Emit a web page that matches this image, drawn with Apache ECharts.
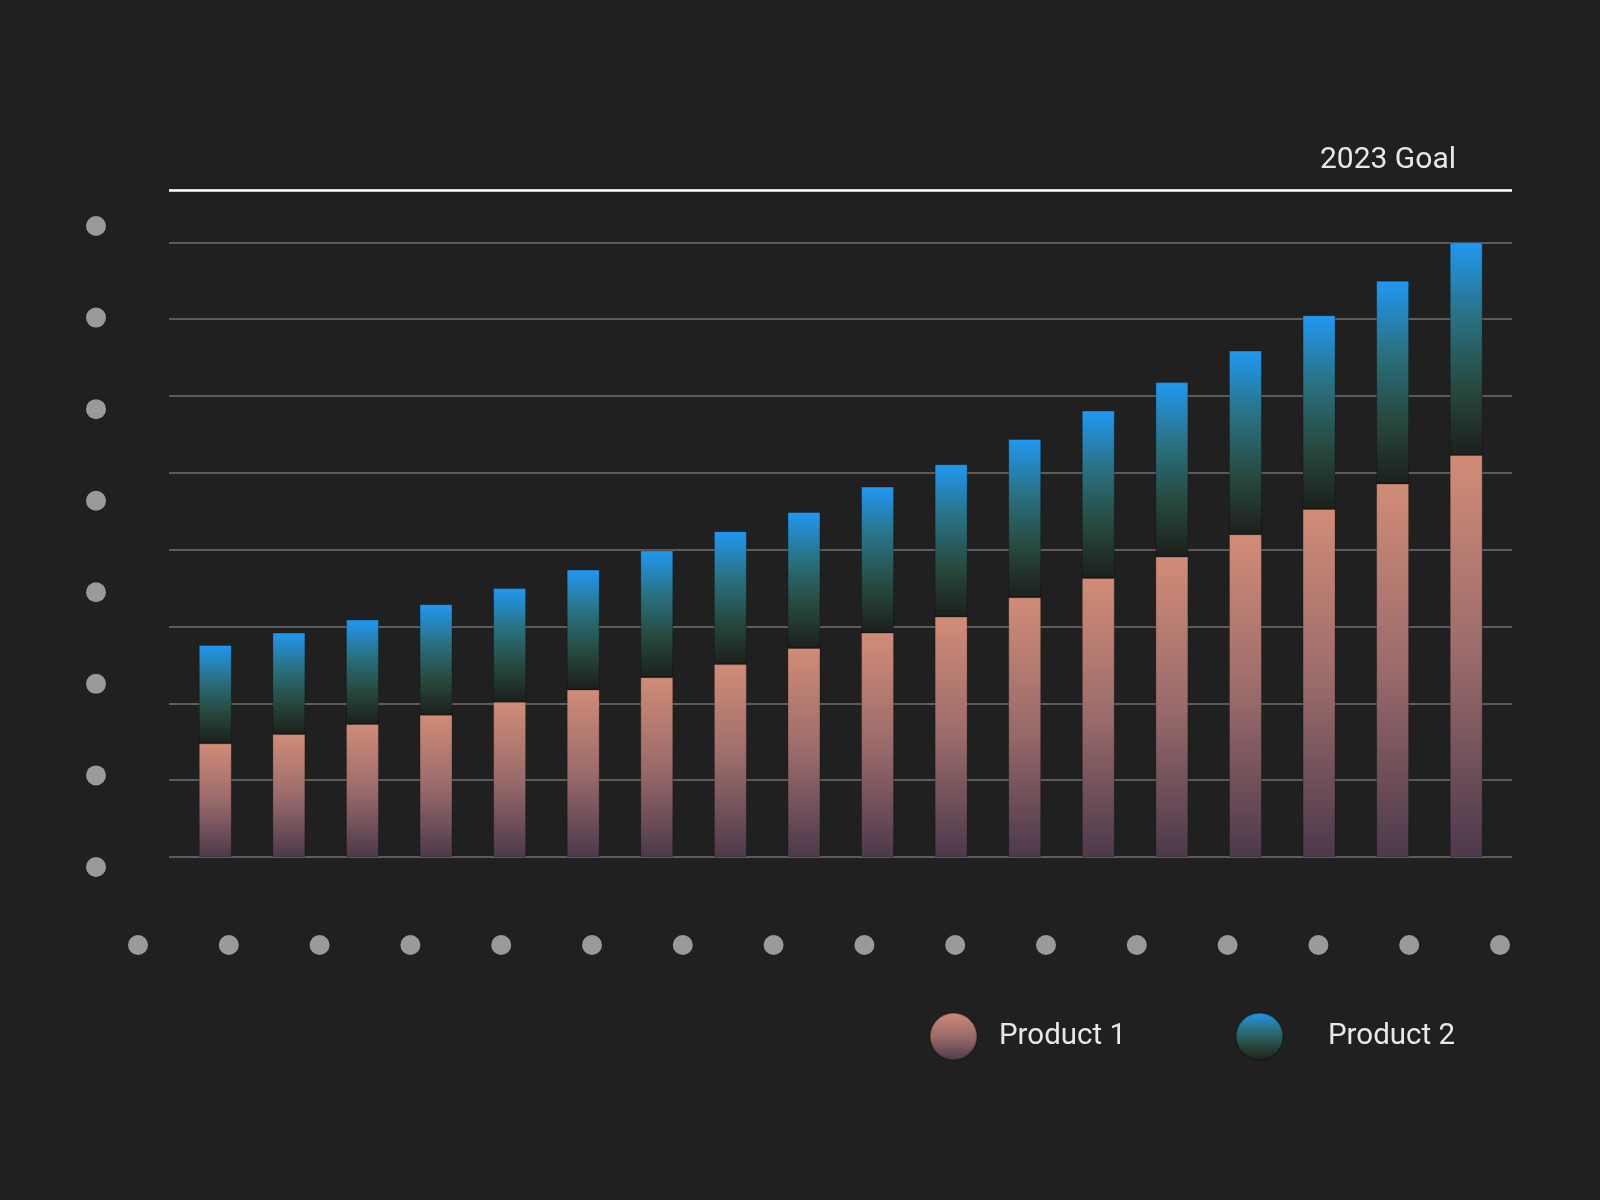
<!DOCTYPE html>
<html>
<head>
<meta charset="UTF-8">
<title>Product 1 / Product 2</title>
<script src="https://cdn.jsdelivr.net/npm/echarts@6/dist/echarts.min.js"></script>
<style>
  html, body { margin: 0; padding: 0; background: #202020; }
  #main { width: 1600px; height: 1200px; }
</style>
</head>
<body>
<div id="main"></div>
<script type="text/javascript">
  // bars (one gridline = 10)
  var categories = ['1', '2', '3', '4', '5', '6', '7', '8', '9', '10', '11', '12', '13', '14', '15', '16', '17', '18'];
  var product1 = [14.8, 16.0, 17.3, 18.5, 20.2, 21.8, 23.4, 25.1, 27.2, 29.2, 31.3, 33.8, 36.3, 39.1, 42.0, 45.3, 48.6, 52.3];
  var product2 = [12.8, 13.2, 13.6, 14.4, 14.8, 15.6, 16.5, 17.3, 17.7, 19.0, 19.8, 20.6, 21.8, 22.7, 23.9, 25.2, 26.4, 27.7];
  var goalValue = 86.8;
  var goalLabel = '2023 Goal';

  // the axis labels are grey placeholder dots
  var xTickLabels = ['', '', '', '', '', '', '', '', '', '', '', '', '', '', '', ''];
  var yTickLabels = ['', '', '', '', '', '', '', ''];

  var font = 'Roboto';
  var dotLabel = {
    formatter: function () { return '{d| }'; },
    rich: { d: { width: 20, height: 20, borderRadius: 10, backgroundColor: '#9a9a9a' } }
  };

  function grad(stops) {
    return new echarts.graphic.LinearGradient(0, 0, 0, 1, stops);
  }
  var color1 = grad([
    { offset: 0, color: '#d18c77' },
    { offset: 0.5, color: '#9a6b6b' },
    { offset: 1, color: '#4c394b' }
  ]);
  var color2 = grad([
    { offset: 0, color: '#2198f2' },
    { offset: 0.35, color: '#2a7182' },
    { offset: 0.7, color: '#27473b' },
    { offset: 1, color: '#1c201c' }
  ]);

  var option = {
    backgroundColor: '#202020',
    animation: false,
    textStyle: { fontFamily: font },
    legend: [{
      data: ['Product 1'],
      left: 924,
      top: 1007,
      icon: 'circle',
      itemWidth: 47,
      itemHeight: 47,
      textStyle: { color: '#e8e8e8', fontSize: 29.5, fontFamily: font, padding: [4, 0, 0, 17] }
    }, {
      data: ['Product 2'],
      left: 1230,
      top: 1007,
      icon: 'circle',
      itemWidth: 47,
      itemHeight: 47,
      textStyle: { color: '#e8e8e8', fontSize: 29.5, fontFamily: font, padding: [4, 0, 0, 40] }
    }],
    grid: [
      // gridlines + goal line
      { left: 169, right: 88, top: 190, bottom: 343 },
      // bars
      { left: 178.5, right: 97, top: 190, bottom: 343 },
      // placeholder dot labels
      { left: 138, right: 100, top: 226, bottom: 333 }
    ],
    xAxis: [
      { gridIndex: 0, type: 'category', data: categories, show: false },
      { gridIndex: 1, type: 'category', data: categories, show: false },
      {
        gridIndex: 2, type: 'category', data: xTickLabels, boundaryGap: false,
        axisLine: { show: false }, axisTick: { show: false }, splitLine: { show: false },
        axisLabel: Object.assign({ margin: 68, interval: 0 }, dotLabel)
      }
    ],
    yAxis: [
      {
        gridIndex: 0, type: 'value', min: 0, max: goalValue, interval: 10,
        axisLine: { show: false }, axisTick: { show: false }, axisLabel: { show: false },
        splitLine: { lineStyle: { color: '#5c5c5c', width: 2 } }
      },
      { gridIndex: 1, type: 'value', min: 0, max: goalValue, show: false, splitLine: { show: false } },
      {
        gridIndex: 2, type: 'category', data: yTickLabels, boundaryGap: false,
        axisLine: { show: false }, axisTick: { show: false }, splitLine: { show: false },
        axisLabel: Object.assign({ margin: 32, interval: 0 }, dotLabel)
      }
    ],
    series: [
      {
        name: 'goal',
        type: 'line',
        xAxisIndex: 0,
        yAxisIndex: 0,
        data: [],
        markLine: {
          silent: true,
          symbol: 'none',
          lineStyle: { color: '#ffffff', width: 2.5, type: 'solid' },
          label: {
            show: true,
            position: 'insideEndTop',
            formatter: goalLabel,
            color: '#e8e8e8',
            fontSize: 30,
            fontFamily: font,
            distance: [56, 15]
          },
          data: [{ yAxis: goalValue }]
        }
      },
      {
        name: 'Product 1',
        type: 'bar',
        xAxisIndex: 1,
        yAxisIndex: 1,
        stack: 'total',
        barWidth: 33,
        data: product1,
        itemStyle: { color: color1, borderColor: 'rgba(0,0,0,0.25)', borderWidth: 1 }
      },
      {
        name: 'Product 2',
        type: 'bar',
        xAxisIndex: 1,
        yAxisIndex: 1,
        stack: 'total',
        barWidth: 33,
        data: product2,
        itemStyle: { color: color2, borderColor: 'rgba(0,0,0,0.25)', borderWidth: 1 }
      }
    ]
  };

  echarts.init(document.getElementById('main')).setOption(option);
</script>
</body>
</html>
